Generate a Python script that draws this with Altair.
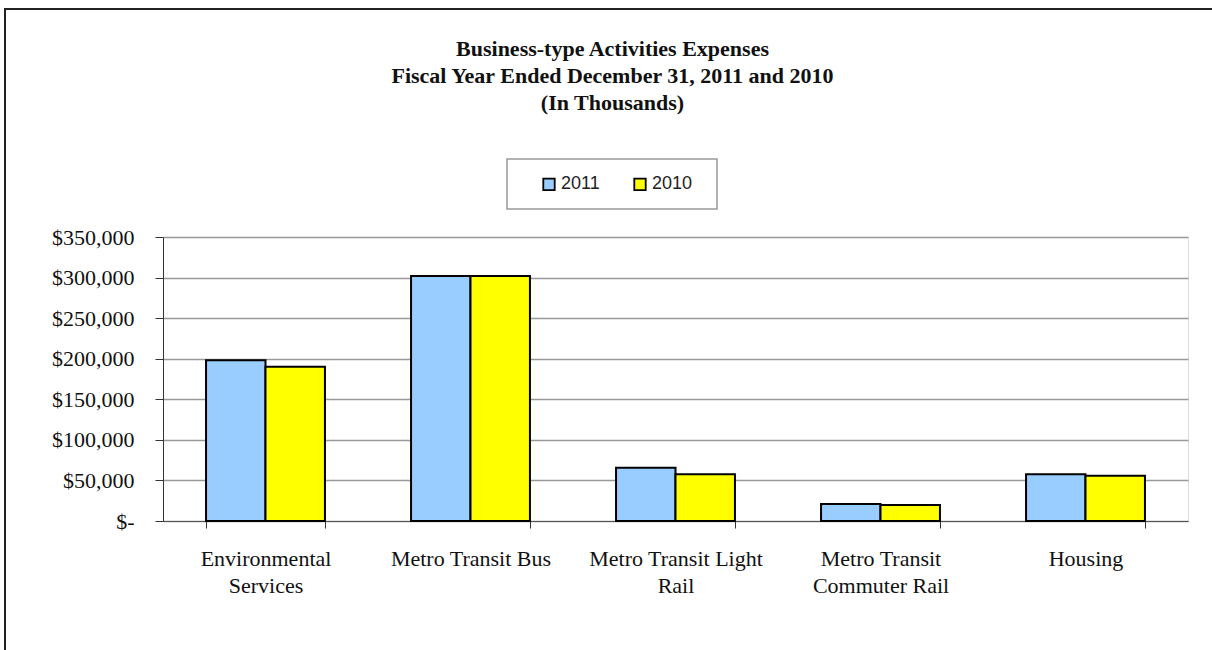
import altair as alt
import pandas as pd

categories = ["Environmental Services", "Metro Transit Bus", "Metro Transit Light Rail",
              "Metro Transit Commuter Rail", "Housing"]
label_lines = [["Environmental", "Services"], ["Metro Transit Bus"], ["Metro Transit Light", "Rail"],
               ["Metro Transit", "Commuter Rail"], ["Housing"]]
years = ["2011", "2010"]
values_2011 = [198000, 302000, 65500, 21000, 57500]
values_2010 = [190000, 302000, 57500, 19800, 55800]
colors = ["#99CCFF", "#FFFF00"]
y_ticks = [0, 50000, 100000, 150000, 200000, 250000, 300000, 350000]
title_lines = ["Business-type Activities Expenses",
               "Fiscal Year Ended December 31, 2011 and 2010",
               "(In Thousands)"]

rows = []
for c, a, b in zip(categories, values_2011, values_2010):
    rows.append({"category": c, "year": "2011", "value": a})
    rows.append({"category": c, "year": "2010", "value": b})
df = pd.DataFrame(rows)

label_expr = " : ".join(
    f"datum.label == '{c}' ? {lines!r}" for c, lines in zip(categories, label_lines)
) + " : datum.label"

SERIF = "Liberation Serif"

bars = alt.Chart(df).mark_bar(stroke="black", strokeWidth=2).encode(
    x=alt.X("category:N", sort=categories, title=None,
            scale=alt.Scale(paddingInner=0.42, paddingOuter=0.21),
            axis=alt.Axis(labelExpr=label_expr, labelAngle=0, tickBand="extent",
                          tickSize=7, tickColor="#333", domainColor="#555",
                          labelFont=SERIF, labelFontSize=22, labelColor="#111",
                          labelLineHeight=27, labelPadding=20, grid=False,
                          labelLimit=300)),
    xOffset=alt.XOffset("year:N", sort=years, scale=alt.Scale(domain=years, paddingInner=0, paddingOuter=0)),
    y=alt.Y("value:Q", title=None,
            scale=alt.Scale(domain=[0, 350000], nice=False),
            axis=alt.Axis(values=y_ticks,
                          labelExpr="datum.value == 0 ? '$-' : '$' + format(datum.value, ',')",
                          tickSize=8, tickColor="#333", domainColor="#333",
                          labelFont=SERIF, labelFontSize=22, labelColor="#111",
                          labelPadding=21, gridColor="#999", gridWidth=1.3)),
    color=alt.Color("year:N", sort=years,
                    scale=alt.Scale(domain=years, range=colors),
                    legend=alt.Legend(title=None, orient="none", direction="horizontal",
                                      legendX=377, legendY=-62, padding=0,
                                      symbolType="square", symbolSize=130,
                                      symbolStrokeColor="black", symbolStrokeWidth=1.8,
                                      labelFont="Liberation Sans", labelFontSize=18,
                                      labelColor="#222", labelOffset=3,
                                      columnPadding=30)),
)

legend_box = alt.Chart(alt.Data(values=[{}])).mark_rect(
    fill="white", stroke="#999", strokeWidth=1.5
).encode(x=alt.value(344), x2=alt.value(554), y=alt.value(-78), y2=alt.value(-28))

frame = alt.Chart(alt.Data(values=[{}])).mark_rect(
    fill=None, stroke="#222", strokeWidth=2
).encode(x=alt.value(-158), x2=alt.value(1080), y=alt.value(-228), y2=alt.value(460))

chart = alt.layer(frame, legend_box, bars).properties(
    width=1025, height=284,
    autosize=alt.AutoSizeParams(type="none"),
    padding={"left": 163, "top": 237, "right": 24, "bottom": 129},
    title=alt.TitleParams(text=title_lines, anchor="middle", frame="group",
                          font=SERIF, fontSize=22, fontWeight="bold", color="#111",
                          lineHeight=27, offset=-107, dx=-63),
).configure_view(stroke=None).configure(background="white")

chart.save("out.html", embed_options={"renderer": "svg", "actions": False})
